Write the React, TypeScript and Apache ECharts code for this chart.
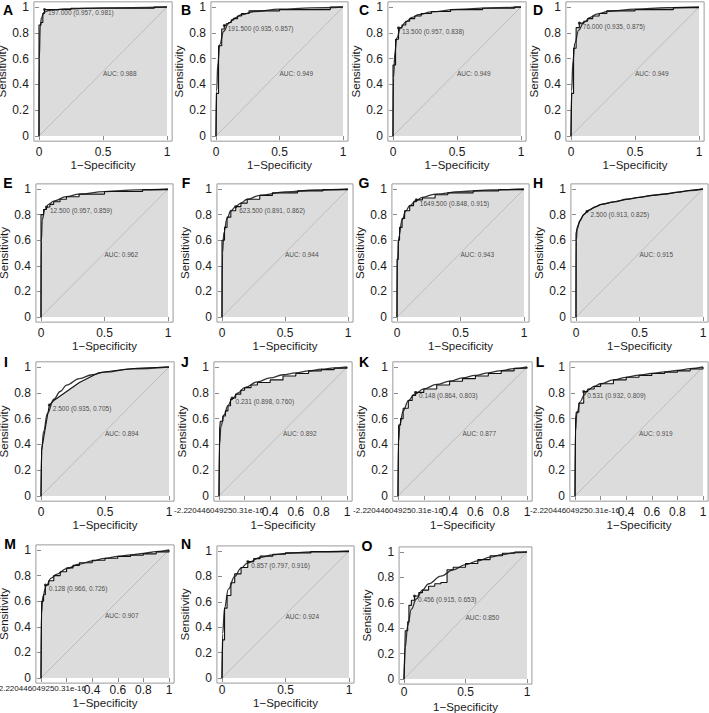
import React, { useEffect, useRef } from "react";
import * as echarts from "echarts";

const FONT = '"Liberation Sans", Arial, sans-serif';

const letters = ["A", "B", "C", "D", "E", "F", "G", "H", "I", "J", "K", "L", "M", "N", "O"];
const thresholdValues = ["197.000", "191.500", "13.500", "76.000", "12.500", "623.500", "1649.500", "2.500", "2.500", "0.231", "0.148", "0.531", "0.128", "0.857", "0.456"];
const thresholdSpec = [0.957, 0.935, 0.957, 0.935, 0.957, 0.891, 0.848, 0.913, 0.935, 0.898, 0.864, 0.932, 0.966, 0.797, 0.915];
const thresholdSens = [0.981, 0.857, 0.838, 0.875, 0.859, 0.862, 0.915, 0.825, 0.705, 0.76, 0.803, 0.809, 0.726, 0.916, 0.653];
const aucValues = [0.988, 0.949, 0.949, 0.949, 0.962, 0.944, 0.943, 0.915, 0.894, 0.892, 0.877, 0.919, 0.907, 0.924, 0.85];

const xTicksCoarse = [0, 0.5, 1];
const xTickLabelsCoarse = ["0", "0.5", "1"];
const xTicksFine = [0, 0.2, 0.4, 0.6, 0.8, 1];
const xTickLabelsFine = ["-2.220446049250.31e-16", "", "0.4", "0.6", "0.8", "1"];
const yTicks = [0, 0.2, 0.4, 0.6, 0.8, 1];
const yTickLabels = ["0", "0.2", "0.4", "0.6", "0.8", "1"];
const finePanels = ["J", "K", "L", "M"];
const polylinePanels = ["H", "I"];

// empirical ROC (1-specificity, sensitivity)
const empA = [[0, 0], [0, 0.86], [0.015, 0.88], [0.03, 0.95], [0.043, 0.981], [0.25, 0.99], [0.9, 1], [1, 1]];
const empB = [[0, 0], [0.003, 0.33], [0.02, 0.7], [0.045, 0.83], [0.065, 0.857], [0.08, 0.87], [0.1, 0.88], [0.12, 0.9], [0.14, 0.91], [0.17, 0.93], [0.2, 0.95], [0.26, 0.97], [0.5, 0.98], [0.9, 1], [1, 1]];
const empC = [[0, 0], [0, 0.55], [0.02, 0.75], [0.043, 0.838], [0.07, 0.86], [0.1, 0.89], [0.13, 0.91], [0.17, 0.93], [0.22, 0.95], [0.3, 0.965], [0.45, 0.98], [0.7, 0.99], [0.95, 1], [1, 1]];
const empD = [[0, 0], [0.005, 0.33], [0.02, 0.68], [0.04, 0.84], [0.065, 0.875], [0.1, 0.89], [0.13, 0.91], [0.17, 0.93], [0.22, 0.95], [0.28, 0.97], [0.5, 0.98], [0.8, 0.995], [1, 1]];
const empE = [[0, 0], [0, 0.8], [0.02, 0.84], [0.043, 0.859], [0.07, 0.88], [0.1, 0.9], [0.15, 0.92], [0.2, 0.94], [0.3, 0.96], [0.5, 0.98], [0.8, 0.995], [1, 1]];
const empF = [[0, 0], [0, 0.6], [0.02, 0.7], [0.04, 0.78], [0.07, 0.83], [0.109, 0.862], [0.15, 0.89], [0.2, 0.92], [0.3, 0.95], [0.4, 0.97], [0.6, 0.985], [0.8, 0.995], [1, 1]];
const empG = [[0, 0], [0, 0.45], [0.01, 0.6], [0.02, 0.7], [0.04, 0.77], [0.06, 0.83], [0.1, 0.87], [0.13, 0.9], [0.152, 0.915], [0.2, 0.93], [0.3, 0.955], [0.4, 0.97], [0.6, 0.985], [0.8, 0.995], [1, 1]];
const empH = [[0, 0], [0, 0.65], [0.01, 0.7], [0.03, 0.75], [0.06, 0.8], [0.087, 0.825], [0.15, 0.86], [0.2, 0.88], [0.3, 0.9], [0.4, 0.92], [0.5, 0.935], [0.6, 0.95], [0.7, 0.96], [0.8, 0.975], [0.9, 0.99], [1, 1]];
const empI = [[0, 0], [0.005, 0.36], [0.05, 0.62], [0.065, 0.705], [0.1, 0.74], [0.3, 0.88], [0.45, 0.955], [0.6, 0.975], [0.75, 0.99], [1, 1]];
const empJ = [[0, 0], [0.005, 0.52], [0.01, 0.58], [0.03, 0.62], [0.05, 0.66], [0.07, 0.7], [0.09, 0.75], [0.102, 0.76], [0.13, 0.79], [0.17, 0.82], [0.2, 0.84], [0.25, 0.86], [0.3, 0.88], [0.4, 0.9], [0.5, 0.93], [0.6, 0.95], [0.7, 0.97], [0.8, 0.98], [0.9, 0.99], [1, 1]];
const empK = [[0, 0], [0.005, 0.55], [0.02, 0.6], [0.04, 0.68], [0.08, 0.74], [0.11, 0.78], [0.136, 0.803], [0.2, 0.83], [0.3, 0.86], [0.4, 0.89], [0.5, 0.91], [0.6, 0.93], [0.7, 0.95], [0.8, 0.97], [0.9, 0.99], [1, 1]];
const empL = [[0, 0], [0.005, 0.6], [0.01, 0.65], [0.03, 0.72], [0.068, 0.809], [0.1, 0.83], [0.15, 0.85], [0.2, 0.87], [0.3, 0.9], [0.4, 0.92], [0.5, 0.935], [0.6, 0.95], [0.7, 0.96], [0.8, 0.97], [0.9, 0.985], [1, 1]];
const empM = [[0, 0], [0.005, 0.6], [0.02, 0.65], [0.034, 0.726], [0.06, 0.76], [0.1, 0.8], [0.15, 0.83], [0.2, 0.86], [0.25, 0.88], [0.3, 0.9], [0.4, 0.92], [0.5, 0.935], [0.6, 0.95], [0.7, 0.96], [0.8, 0.97], [0.9, 0.985], [1, 1]];
const empN = [[0, 0], [0.005, 0.3], [0.02, 0.55], [0.04, 0.65], [0.07, 0.75], [0.1, 0.82], [0.15, 0.87], [0.203, 0.916], [0.25, 0.94], [0.3, 0.96], [0.4, 0.975], [0.5, 0.985], [0.7, 0.995], [1, 1]];
const empO = [[0, 0], [0.005, 0.15], [0.01, 0.38], [0.03, 0.45], [0.04, 0.58], [0.06, 0.62], [0.085, 0.653], [0.12, 0.68], [0.15, 0.7], [0.2, 0.73], [0.25, 0.75], [0.3, 0.76], [0.35, 0.86], [0.4, 0.88], [0.5, 0.91], [0.6, 0.94], [0.7, 0.97], [0.8, 0.99], [0.9, 1], [1, 1]];

// smoothed ROC
const smoothA = [[0, 0], [0.002, 0.6], [0.01, 0.85], [0.02, 0.92], [0.04, 0.96], [0.08, 0.975], [0.2, 0.985], [0.5, 0.993], [1, 1]];
const smoothB = [[0, 0], [0.005, 0.35], [0.015, 0.57], [0.03, 0.71], [0.06, 0.81], [0.1, 0.875], [0.15, 0.915], [0.2, 0.94], [0.3, 0.965], [0.5, 0.983], [0.75, 0.993], [1, 1]];
const smoothC = [[0, 0], [0.004, 0.45], [0.015, 0.65], [0.03, 0.76], [0.06, 0.84], [0.1, 0.885], [0.15, 0.92], [0.2, 0.94], [0.3, 0.962], [0.5, 0.982], [0.75, 0.993], [1, 1]];
const smoothD = [[0, 0], [0.005, 0.35], [0.015, 0.58], [0.03, 0.72], [0.06, 0.82], [0.1, 0.88], [0.15, 0.92], [0.2, 0.945], [0.3, 0.967], [0.5, 0.984], [0.75, 0.994], [1, 1]];
const smoothE = [[0, 0], [0.003, 0.6], [0.01, 0.76], [0.03, 0.84], [0.06, 0.88], [0.1, 0.905], [0.2, 0.94], [0.3, 0.96], [0.5, 0.98], [0.75, 0.993], [1, 1]];
const smoothF = [[0, 0], [0.004, 0.5], [0.015, 0.66], [0.04, 0.77], [0.07, 0.83], [0.11, 0.865], [0.15, 0.89], [0.2, 0.92], [0.3, 0.95], [0.5, 0.977], [0.75, 0.992], [1, 1]];
const smoothG = [[0, 0], [0.004, 0.45], [0.015, 0.63], [0.04, 0.76], [0.07, 0.83], [0.1, 0.87], [0.15, 0.91], [0.2, 0.935], [0.3, 0.96], [0.5, 0.98], [0.75, 0.993], [1, 1]];
const smoothH = [[0, 0], [0.002, 0.6], [0.01, 0.69], [0.03, 0.75], [0.06, 0.8], [0.1, 0.835], [0.15, 0.86], [0.2, 0.88], [0.3, 0.9], [0.4, 0.92], [0.5, 0.935], [0.6, 0.95], [0.7, 0.962], [0.8, 0.975], [0.9, 0.988], [1, 1]];
const smoothI = [[0, 0], [0.005, 0.35], [0.02, 0.5], [0.05, 0.64], [0.1, 0.75], [0.15, 0.81], [0.2, 0.86], [0.3, 0.91], [0.4, 0.94], [0.5, 0.96], [0.7, 0.985], [1, 1]];
const smoothJ = [[0, 0], [0.004, 0.4], [0.015, 0.54], [0.04, 0.63], [0.07, 0.7], [0.1, 0.75], [0.15, 0.8], [0.2, 0.84], [0.3, 0.885], [0.4, 0.915], [0.5, 0.94], [0.6, 0.955], [0.7, 0.97], [0.8, 0.983], [0.9, 0.993], [1, 1]];
const smoothK = [[0, 0], [0.004, 0.42], [0.015, 0.56], [0.04, 0.66], [0.08, 0.74], [0.13, 0.79], [0.2, 0.83], [0.3, 0.865], [0.4, 0.89], [0.5, 0.915], [0.6, 0.935], [0.7, 0.955], [0.8, 0.972], [0.9, 0.988], [1, 1]];
const smoothL = [[0, 0], [0.003, 0.5], [0.015, 0.64], [0.04, 0.73], [0.07, 0.78], [0.1, 0.82], [0.15, 0.85], [0.2, 0.87], [0.3, 0.9], [0.4, 0.92], [0.5, 0.937], [0.6, 0.95], [0.7, 0.962], [0.8, 0.974], [0.9, 0.987], [1, 1]];
const smoothM = [[0, 0], [0.003, 0.5], [0.015, 0.64], [0.04, 0.72], [0.08, 0.78], [0.12, 0.81], [0.2, 0.855], [0.3, 0.89], [0.4, 0.915], [0.5, 0.935], [0.6, 0.95], [0.7, 0.962], [0.8, 0.974], [0.9, 0.987], [1, 1]];
const smoothN = [[0, 0], [0.005, 0.35], [0.02, 0.55], [0.05, 0.7], [0.1, 0.8], [0.15, 0.865], [0.2, 0.905], [0.3, 0.95], [0.4, 0.97], [0.5, 0.982], [0.7, 0.993], [1, 1]];
const smoothO = [[0, 0], [0.01, 0.25], [0.03, 0.42], [0.06, 0.55], [0.1, 0.63], [0.15, 0.7], [0.2, 0.75], [0.3, 0.81], [0.4, 0.86], [0.5, 0.9], [0.6, 0.93], [0.7, 0.96], [0.8, 0.98], [0.9, 0.995], [1, 1]];

const empirical = [empA, empB, empC, empD, empE, empF, empG, empH, empI, empJ, empK, empL, empM, empN, empO];
const smoothed = [smoothA, smoothB, smoothC, smoothD, smoothE, smoothF, smoothG, smoothH, smoothI, smoothJ, smoothK, smoothL, smoothM, smoothN, smoothO];

// layout: pixel positions of data 0 and 1 on each axis [x0, x1, yTop(1), yBottom(0), xLabelMargin, xNameGap]
const layout = [
  [39, 167, 7, 136, 5, 18], [216, 343, 7, 136, 5, 18], [393, 521, 7, 136, 5, 18], [571, 699, 7, 136, 5, 18],
  [41, 168, 189, 317, 5, 18], [222, 348, 189, 317, 5, 18], [397, 524, 189, 317, 5, 18], [576, 703, 189, 317, 5, 18],
  [41, 169, 367, 496, 5, 17], [219, 347, 367, 496, 5, 17], [398, 527, 367, 496, 5, 17], [575, 703, 367, 496, 5, 17],
  [41, 169, 550, 678, 1, 11], [222, 349, 551, 678, 1, 12], [404, 527, 552, 679, 2, 17],
];
const letterPos = [
  [8, 10], [186, 10], [364, 10], [538, 10],
  [8, 183], [186, 183], [364, 183], [538, 183],
  [6, 362], [185, 362], [364, 362], [540, 362],
  [10, 544], [186, 544], [367, 546],
];

export default function App() {
  const ref = useRef<HTMLDivElement>(null);
  useEffect(() => {
    const chart = echarts.init(ref.current!, null, { renderer: "svg" });
    const grid: any[] = [];
    const xAxis: any[] = [];
    const yAxis: any[] = [];
    const series: any[] = [];
    const graphic: any[] = [];
    const textColor = "#1a1a1a";
    letters.forEach((letter, i) => {
      const [x0, x1, yT, yB, lm, ng] = layout[i];
      const w = x1 - x0;
      const h = yB - yT;
      grid.push({
        left: x0 - 0.04 * w,
        top: yT - 0.04 * h,
        width: 1.08 * w,
        height: 1.08 * h,
        show: true,
        borderColor: "#9a9a9a",
        borderWidth: 1,
        backgroundColor: "transparent",
        containLabel: false,
        outerBoundsMode: "none",
      });
      const fine = finePanels.includes(letter);
      const xt = fine ? xTicksFine : xTicksCoarse;
      const xl = fine ? xTickLabelsFine : xTickLabelsCoarse;
      xAxis.push({
        gridIndex: i,
        type: "value",
        min: -0.04,
        max: 1.04,
        splitLine: { show: false },
        axisLine: { show: false },
        axisTick: { show: true, customValues: xt, length: 4, lineStyle: { color: "#8a8a8a" } },
        axisLabel: {
          customValues: xt,
          margin: lm,
          fontSize: 12,
          fontFamily: FONT,
          color: textColor,
          formatter: (v: number) => {
            const k = xt.findIndex((t) => Math.abs(t - v) < 1e-9);
            if (k < 0) return "";
            if (fine && k === 0) return `{s|${xl[k]}}`;
            return xl[k];
          },
          rich: { s: { fontSize: 8, fontFamily: FONT, color: textColor } },
        },
        name: "1\u2212Specificity",
        nameLocation: "middle",
        nameGap: ng,
        nameTextStyle: { fontSize: 11.5, fontFamily: FONT, color: textColor },
      });
      yAxis.push({
        gridIndex: i,
        type: "value",
        min: -0.04,
        max: 1.04,
        splitLine: { show: false },
        axisLine: { show: false },
        axisTick: { show: true, customValues: yTicks, length: 4, lineStyle: { color: "#8a8a8a" } },
        axisLabel: {
          customValues: yTicks,
          margin: 5,
          fontSize: 12,
          fontFamily: FONT,
          color: textColor,
          formatter: (v: number) => {
            const k = yTicks.findIndex((t) => Math.abs(t - v) < 1e-9);
            return k < 0 ? "" : yTickLabels[k];
          },
        },
        name: "Sensitivity",
        nameLocation: "middle",
        nameGap: 18.5,
        nameRotate: 90,
        nameTextStyle: { fontSize: 11.5, lineHeight: 12, fontFamily: FONT, color: textColor },
      });
      const stepMode = polylinePanels.includes(letter) ? false : "end";
      series.push({
        type: "line",
        xAxisIndex: i,
        yAxisIndex: i,
        data: empirical[i],
        step: stepMode,
        symbol: "none",
        lineStyle: { width: 0, color: "#dcdcdc" },
        areaStyle: { color: "#dcdcdc", opacity: 1, origin: 0 },
        z: 1,
        silent: true,
      });
      series.push({
        type: "line",
        xAxisIndex: i,
        yAxisIndex: i,
        data: [[0, 0], [1, 1]],
        symbol: "none",
        lineStyle: { width: 1, color: "#bdbdbd" },
        z: 2,
        silent: true,
      });
      series.push({
        type: "line",
        xAxisIndex: i,
        yAxisIndex: i,
        data: smoothed[i],
        smooth: 0.4,
        smoothMonotone: "x",
        symbol: "none",
        lineStyle: { width: 1.3, color: "#333" },
        z: 3,
        silent: true,
      });
      series.push({
        type: "line",
        xAxisIndex: i,
        yAxisIndex: i,
        data: empirical[i],
        step: stepMode,
        symbol: "none",
        lineStyle: { width: 1.1, color: "#111" },
        z: 4,
        silent: true,
      });
      series.push({
        type: "scatter",
        xAxisIndex: i,
        yAxisIndex: i,
        data: [[1 - thresholdSpec[i], thresholdSens[i]]],
        symbol: "circle",
        symbolSize: 3,
        itemStyle: { color: "#111" },
        label: {
          show: true,
          position: "right",
          distance: 2,
          offset: [0, 3.5],
          formatter: `${thresholdValues[i]} (${thresholdSpec[i].toFixed(3)}, ${thresholdSens[i].toFixed(3)})`,
          fontSize: 6.5,
          fontFamily: FONT,
          color: "#222",
        },
        z: 5,
        silent: true,
      });
      series.push({
        type: "scatter",
        xAxisIndex: i,
        yAxisIndex: i,
        data: [[0.5, 0.5]],
        symbolSize: 0,
        label: {
          show: true,
          position: "right",
          distance: 0,
          offset: [0, 1.5],
          formatter: `AUC: ${aucValues[i].toFixed(3)}`,
          fontSize: 6.5,
          fontFamily: FONT,
          color: "#222",
        },
        z: 5,
        silent: true,
      });
      graphic.push({
        type: "text",
        x: letterPos[i][0],
        y: letterPos[i][1],
        style: {
          text: letter,
          fontSize: 14,
          fontWeight: "bold",
          fontFamily: FONT,
          fill: "#000",
          align: "center",
          verticalAlign: "middle",
        },
      });
    });
    chart.setOption({
      animation: false,
      backgroundColor: "#fff",
      grid,
      xAxis,
      yAxis,
      series,
      graphic,
    });
    return () => chart.dispose();
  }, []);
  return (
    <div
      ref={ref}
      style={{ position: "fixed", left: 0, top: 0, width: 709, height: 713, background: "#fff" }}
    />
  );
}
